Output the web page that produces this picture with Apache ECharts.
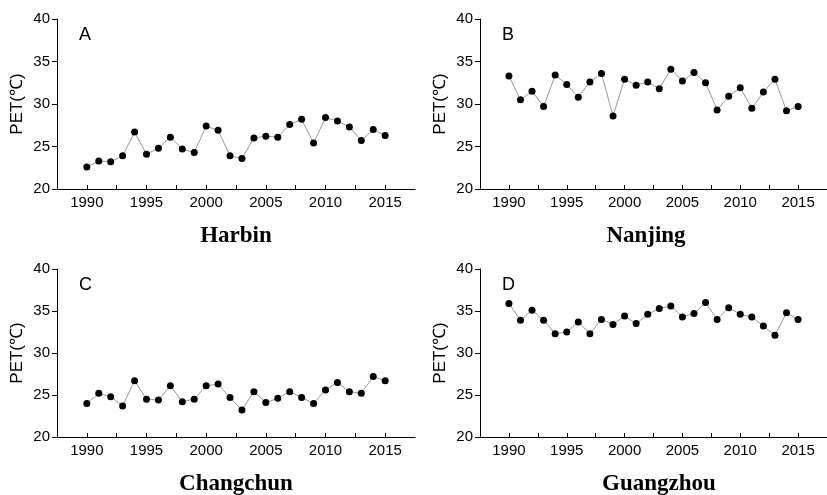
<!DOCTYPE html>
<html>
<head>
<meta charset="utf-8">
<script src="https://cdn.jsdelivr.net/npm/echarts@6/dist/echarts.min.js"></script>
<style>
  html, body { margin: 0; padding: 0; background: #fff; }
  #chart { width: 827px; height: 495px; }
</style>
</head>
<body>
<div id="chart"></div>
<script>
// years shared by all four stations
const years = [1990, 1991, 1992, 1993, 1994, 1995, 1996, 1997, 1998, 1999,
  2000, 2001, 2002, 2003, 2004, 2005, 2006, 2007, 2008, 2009,
  2010, 2011, 2012, 2013, 2014, 2015];

// PET values
const harbin = [22.6, 23.3, 23.2, 23.9, 26.7, 24.1, 24.8, 26.1, 24.7, 24.3,
  27.4, 26.9, 23.9, 23.6, 26.0, 26.2, 26.1, 27.6, 28.2, 25.4,
  28.4, 28.0, 27.3, 25.7, 27.0, 26.3];
const nanjing = [33.3, 30.5, 31.5, 29.7, 33.4, 32.3, 30.8, 32.6, 33.6, 28.6,
  32.9, 32.2, 32.6, 31.8, 34.1, 32.7, 33.7, 32.5, 29.3, 30.9,
  31.9, 29.5, 31.4, 32.9, 29.2, 29.7];
const changchun = [24.0, 25.2, 24.8, 23.7, 26.7, 24.5, 24.4, 26.1, 24.2, 24.5,
  26.1, 26.3, 24.7, 23.2, 25.4, 24.1, 24.6, 25.4, 24.7, 24.0,
  25.6, 26.5, 25.4, 25.2, 27.2, 26.7];
const guangzhou = [35.9, 33.9, 35.1, 33.9, 32.3, 32.5, 33.7, 32.3, 34.0, 33.4,
  34.4, 33.5, 34.6, 35.3, 35.6, 34.3, 34.7, 36.0, 34.0, 35.4,
  34.6, 34.3, 33.2, 32.1, 34.8, 34.0];

const stations = ["Harbin", "Nanjing", "Changchun", "Guangzhou"];
const letters = ["A", "B", "C", "D"];
const seriesValues = [harbin, nanjing, changchun, guangzhou];

// panel boxes: [left, top, height, title centre x]
const boxes = [[57, 19, 170, 231], [480, 19, 170, 641], [57, 269, 168, 231], [480, 269, 168, 654]];
const plotWidth = 358;

const sans = "Liberation Sans, Arial, sans-serif";
const serif = "Liberation Serif, Times New Roman, serif";

const grid = [], xAxis = [], yAxis = [], series = [], title = [];

boxes.forEach((b, i) => {
  grid.push({ left: b[0], top: b[1], width: plotWidth, height: b[2] });

  xAxis.push({
    gridIndex: i,
    type: "value",
    min: 1987.5,
    max: 2017.5,
    interval: 2.5,
    splitLine: { show: false },
    axisLine: { lineStyle: { color: "#000", width: 1 } },
    axisTick: { inside: true, length: 4, lineStyle: { color: "#000" } },
    axisLabel: {
      color: "#000",
      fontSize: 15,
      fontFamily: sans,
      margin: 6,
      showMinLabel: false,
      showMaxLabel: false,
      formatter: (v) => (v % 5 === 0 ? String(v) : ""),
    },
  });

  yAxis.push({
    gridIndex: i,
    type: "value",
    min: 20,
    max: 40,
    interval: 5,
    name: "PET(℃)",
    nameLocation: "middle",
    nameGap: 31,
    nameTextStyle: { color: "#000", fontSize: 17, fontFamily: sans },
    splitLine: { show: false },
    axisLine: { show: true, lineStyle: { color: "#000", width: 1 } },
    axisTick: { show: true, length: 5, lineStyle: { color: "#000" } },
    axisLabel: { color: "#000", fontSize: 15, fontFamily: sans, margin: 7 },
  });

  series.push({
    type: "line",
    xAxisIndex: i,
    yAxisIndex: i,
    data: years.map((y, k) => [y, seriesValues[i][k]]),
    symbol: "circle",
    symbolSize: 7,
    itemStyle: { color: "#000" },
    lineStyle: { color: "#999", width: 1 },
    animation: false,
  });

  // station name under each panel
  title.push({
    text: stations[i],
    left: b[3],
    top: b[1] + b[2] + 31,
    textAlign: "center",
    textStyle: { fontFamily: serif, fontWeight: "bold", fontSize: 23, color: "#000" },
  });
  title.push({
    text: letters[i],
    left: b[0] + 17,
    top: b[1] + 2,
    textStyle: { fontFamily: sans, fontWeight: "normal", fontSize: 18, color: "#000" },
  });
});

const chart = echarts.init(document.getElementById("chart"));
chart.setOption({
  animation: false,
  backgroundColor: "#fff",
  title: title,
  grid: grid,
  xAxis: xAxis,
  yAxis: yAxis,
  series: series,
});
</script>
</body>
</html>
